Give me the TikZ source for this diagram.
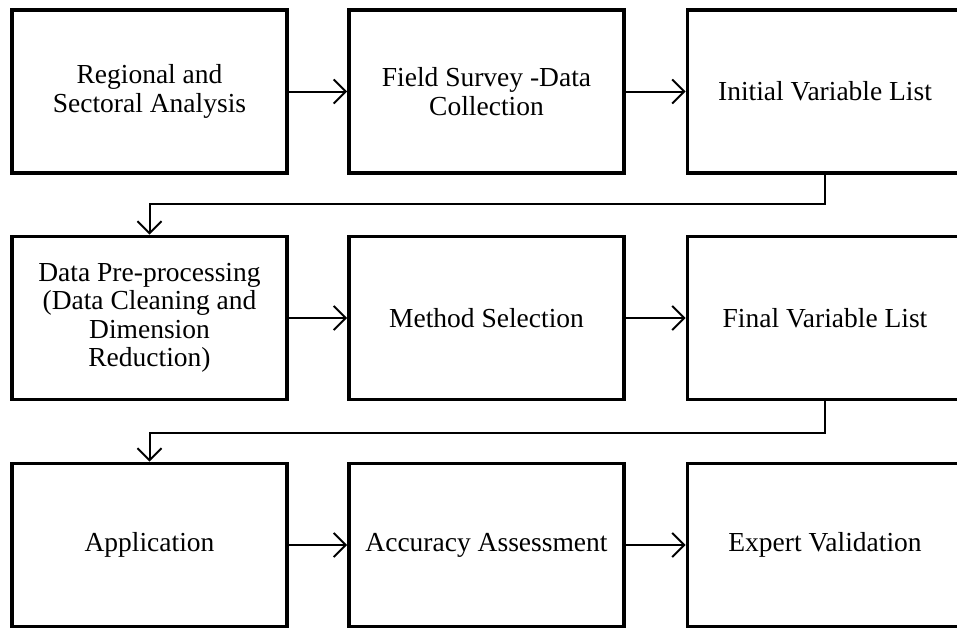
\documentclass[tikz,border=0pt]{standalone}
\usepackage{fontspec}
\setmainfont{Liberation Serif}
\usetikzlibrary{arrows.meta}
\begin{document}
\begin{tikzpicture}[x=1pt,y=-1pt,
  stepbox/.style={draw=black, line width=3.8pt, fill=white,
    minimum width=275pt, minimum height=163pt, inner sep=0pt,
    align=center, font=\fontsize{27.5}{28.5}\selectfont},
  flow/.style={line width=2pt, line join=miter,
    -{Straight Barb[length=12pt,width=24pt]}}
]
\useasboundingbox (0,0) rectangle (957,630);
\clip (0,0) rectangle (957,630);

% first row
\node[stepbox] (b1) at (149.5,91.5) {Regional and\\Sectoral Analysis};
\node[stepbox] (b2) at (486.5,91.5) {Field Survey -Data\\Collection};
\node[stepbox] (b3) at (825,91.5) {Initial Variable List};

% second row
\node[stepbox] (b4) at (149.5,318) {Data Pre-processing\\(Data Cleaning and\\Dimension\\Reduction)};
\node[stepbox] (b5) at (486.5,318) {Method Selection};
\node[stepbox] (b6) at (825,318) {Final Variable List};

% third row
\node[stepbox] (b7) at (149.5,545) {Application};
\node[stepbox] (b8) at (486.5,545) {Accuracy Assessment};
\node[stepbox] (b9) at (825,545) {Expert Validation};

% horizontal links
\draw[flow] (b1.east) -- (b2.west);
\draw[flow] (b2.east) -- (b3.west);
\draw[flow] (b4.east) -- (b5.west);
\draw[flow] (b5.east) -- (b6.west);
\draw[flow] (b7.east) -- (b8.west);
\draw[flow] (b8.east) -- (b9.west);

% row changes
\coordinate (t1) at (825,204);
\coordinate (t2) at (825,433);
\draw[flow] (b3.south) -- (t1) -| (b4.north);
\draw[flow] (b6.south) -- (t2) -| (b7.north);
\end{tikzpicture}
\end{document}
